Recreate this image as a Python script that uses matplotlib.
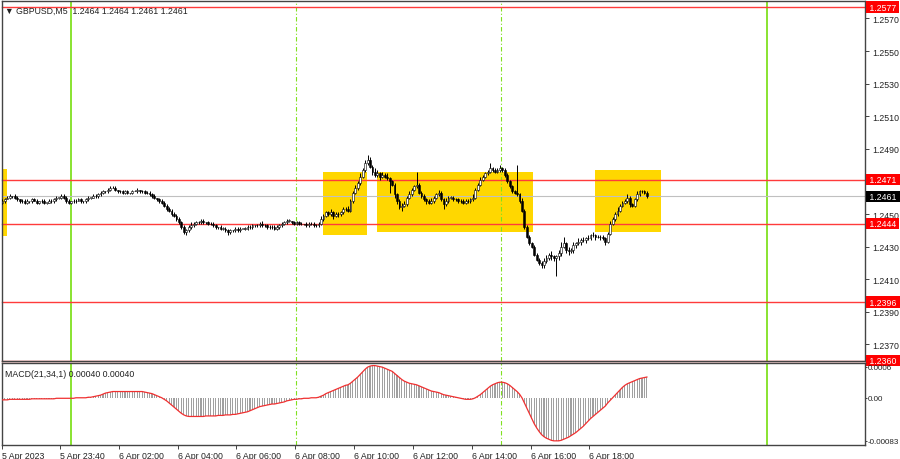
import numpy as np
import matplotlib.pyplot as plt
from matplotlib.transforms import blended_transform_factory

# GBPUSD M5, prices in pips above 1.2400, one value per bar
base = 1.2400
first_open = 57
close_pips = [
    58, 59, 60, 61, 61, 60, 59, 58, 58, 57,
    58, 58, 59, 58, 57, 58, 58, 57, 57, 58,
    58, 59, 60, 60, 61, 60, 58, 57, 58, 58,
    58, 59, 58, 58, 59, 60, 60, 61, 61, 62,
    63, 64, 64, 65, 66, 66, 65, 64, 64, 63,
    64, 63, 63, 64, 64, 65, 64, 64, 63, 63,
    62, 61, 60, 59, 58, 57, 55, 53, 52, 50,
    49, 47, 45, 42, 39, 40, 42, 43, 44, 45,
    45, 46, 45, 45, 44, 44, 43, 42, 42, 41,
    41, 40, 39, 40, 40, 41, 40, 41, 41, 41,
    42, 42, 43, 43, 43, 44, 43, 43, 42, 42,
    42, 41, 42, 43, 44, 45, 46, 46, 45, 44,
    45, 44, 44, 44, 43, 44, 44, 43, 43, 44,
    47, 49, 51, 50, 51, 49, 50, 50, 51, 53,
    53, 52, 58, 63, 66, 69, 73, 77, 81, 83,
    79, 76, 74, 75, 73, 74, 73, 72, 70, 68,
    62, 58, 54, 55, 56, 60, 62, 65, 67, 68,
    63, 61, 59, 58, 57, 58, 60, 62, 63, 59,
    56, 58, 60, 60, 59, 59, 58, 58, 57, 58,
    58, 59, 60, 65, 68, 71, 73, 75, 76, 78,
    77, 76, 77, 78, 77, 74, 70, 67, 64, 63,
    62, 58, 52, 42, 36, 32, 30, 25, 22, 20,
    19, 21, 23, 25, 24, 23, 24, 26, 30, 32,
    28, 27, 28, 31, 32, 33, 34, 34, 35, 35,
    37, 37, 36, 36, 36, 35, 33, 38, 44, 47,
    50, 52, 55, 57, 58, 60, 56, 55, 59, 62,
    64, 64, 63, 61,
]
up_wick = [
    1, 1, 1, 1, 0, 1, 1, 0, 1, 1,
    1, 0, 1, 1, 1, 0, 1, 1, 0, 1,
    1, 1, 1, 0, 1, 1, 1, 1, 0, 1,
    1, 1, 1, 0, 1, 1, 0, 1, 1, 1,
    1, 1, 0, 1, 1, 1, 1, 0, 1, 1,
    1, 1, 0, 1, 1, 1, 0, 1, 1, 1,
    1, 1, 1, 0, 1, 1, 1, 1, 1, 1,
    1, 1, 1, 1, 1, 1, 1, 2, 1, 1,
    1, 1, 1, 0, 1, 1, 1, 1, 0, 1,
    1, 1, 1, 1, 0, 1, 1, 1, 0, 1,
    1, 1, 1, 0, 1, 1, 2, 1, 1, 1,
    1, 1, 1, 1, 1, 1, 1, 1, 0, 1,
    1, 1, 1, 0, 1, 1, 1, 1, 1, 1,
    2, 1, 1, 1, 2, 1, 1, 1, 1, 1,
    1, 2, 1, 1, 2, 1, 2, 1, 2, 3,
    2, 1, 2, 2, 1, 2, 1, 2, 1, 1,
    1, 1, 1, 2, 2, 1, 2, 1, 1, 8,
    1, 1, 1, 1, 1, 2, 1, 1, 2, 1,
    1, 2, 1, 1, 1, 1, 1, 1, 1, 1,
    1, 1, 2, 1, 1, 2, 1, 1, 1, 3,
    1, 1, 1, 2, 1, 1, 1, 1, 1, 1,
    17, 1, 2, 1, 1, 1, 1, 1, 1, 1,
    1, 2, 2, 1, 2, 1, 1, 2, 3, 4,
    1, 2, 1, 2, 1, 2, 1, 2, 1, 2,
    1, 2, 1, 1, 1, 1, 1, 1, 2, 1,
    1, 2, 1, 1, 1, 2, 1, 1, 1, 2,
    1, 1, 1, 1,
]
dn_wick = [
    1, 1, 0, 1, 1, 1, 1, 1, 1, 1,
    1, 1, 1, 0, 1, 1, 1, 1, 1, 0,
    1, 1, 1, 1, 1, 1, 1, 1, 1, 1,
    1, 0, 1, 1, 1, 1, 1, 0, 1, 1,
    1, 1, 1, 1, 1, 0, 1, 1, 1, 1,
    1, 1, 1, 1, 0, 1, 1, 1, 1, 1,
    1, 1, 1, 1, 1, 1, 1, 1, 1, 1,
    1, 1, 1, 1, 1, 2, 1, 1, 1, 1,
    1, 1, 1, 1, 1, 1, 1, 1, 1, 1,
    1, 1, 2, 1, 1, 1, 1, 1, 0, 1,
    1, 1, 1, 1, 1, 1, 1, 1, 1, 1,
    1, 1, 1, 1, 1, 1, 1, 1, 1, 1,
    1, 1, 1, 1, 1, 1, 1, 1, 1, 1,
    1, 1, 1, 1, 1, 2, 1, 2, 1, 1,
    1, 1, 1, 1, 1, 1, 1, 1, 1, 1,
    1, 2, 1, 1, 2, 1, 1, 1, 7, 1,
    2, 2, 1, 2, 1, 1, 1, 1, 1, 1,
    1, 1, 1, 2, 1, 1, 1, 1, 1, 1,
    3, 1, 1, 1, 1, 1, 1, 1, 1, 1,
    1, 1, 1, 1, 1, 1, 1, 1, 1, 1,
    1, 1, 1, 1, 1, 1, 1, 1, 1, 1,
    1, 1, 1, 1, 1, 1, 1, 1, 1, 1,
    2, 2, 1, 1, 2, 2, 11, 2, 2, 1,
    2, 2, 1, 2, 2, 1, 2, 1, 2, 1,
    1, 1, 2, 1, 2, 1, 2, 1, 1, 1,
    1, 1, 1, 1, 1, 1, 2, 1, 1, 1,
    1, 1, 1, 1,
]
# MACD(21,34,1) in units of 0.00001
macd_e5 = [
    -4, -4, -4, -3, -3, -3, -3, -3, -3, -3,
    -3, -3, -2, -2, -2, -2, -2, -2, -2, -2,
    -2, -2, -1, -1, -1, -1, -1, -1, -1, -1,
    0, 0, 0, 0, 0, 1, 1, 2, 3, 4,
    5, 7, 9, 10, 11, 12, 12, 12, 12, 12,
    12, 12, 12, 12, 12, 12, 12, 12, 11, 10,
    9, 8, 6, 4, 2, 0, -3, -6, -10, -14,
    -18, -22, -26, -30, -33, -35, -36, -36, -36, -36,
    -36, -36, -36, -35, -35, -35, -35, -35, -34, -34,
    -34, -33, -33, -33, -32, -32, -31, -30, -29, -28,
    -27, -25, -23, -21, -19, -17, -16, -15, -14, -13,
    -12, -12, -11, -10, -9, -8, -6, -5, -4, -3,
    -3, -2, -2, -1, -1, -1, 0, 0, 0, 1,
    3, 5, 8, 10, 12, 14, 16, 18, 20, 22,
    24, 25, 28, 32, 36, 40, 45, 50, 55, 59,
    61, 62, 62, 61, 60, 59, 57, 55, 53, 51,
    47, 43, 39, 35, 32, 30, 28, 27, 26, 25,
    23, 21, 19, 17, 15, 13, 12, 11, 10, 8,
    6, 5, 4, 3, 2, 1, 0, -1, -2, -3,
    -3, -3, -2, 0, 3, 6, 10, 14, 18, 22,
    25, 27, 29, 30, 30, 29, 27, 24, 20, 16,
    12, 7, 0, -10, -20, -30, -40, -50, -58, -65,
    -71, -75, -78, -80, -82, -83, -83, -83, -82, -80,
    -78, -76, -73, -70, -67, -63, -59, -55, -50, -45,
    -40, -36, -32, -28, -24, -20, -16, -10, -5, 0,
    5, 10, 15, 20, 24, 27, 29, 31, 33, 35,
    37, 38, 39, 40,
]

red_levels = [1.2577, 1.2471, 1.2444, 1.2396, 1.2360]
bid = 1.2461
# rectangles: (first bar, last bar, low price, high price)
boxes = [(-0.2, 1.8, 1.24365, 1.24775),
         (130.8, 148.8, 1.24371, 1.24758),
         (152.9, 216.5, 1.24389, 1.24758),
         (241.8, 268.8, 1.24390, 1.24770)]
solid_days = [27.9, 312.0]
dashed_marks = [119.8, 203.5]
price_ticks = [1.2370, 1.2390, 1.2410, 1.2430, 1.2450, 1.2490, 1.2510, 1.2530, 1.2550, 1.2570]
time_ticks = [0, 23.5, 47.5, 71.5, 95.5, 119.5, 143.5, 167.5, 191.5, 215.5, 239.5]
time_labels = ['5 Apr 2023', '5 Apr 23:40', '6 Apr 02:00', '6 Apr 04:00', '6 Apr 06:00',
               '6 Apr 08:00', '6 Apr 10:00', '6 Apr 12:00', '6 Apr 14:00', '6 Apr 16:00',
               '6 Apr 18:00']

closes = base + np.array(close_pips) / 10000
opens = np.concatenate([[base + first_open / 10000], closes[:-1]])
highs = np.maximum(opens, closes) + np.array(up_wick) / 10000
lows = np.minimum(opens, closes) - np.array(dn_wick) / 10000
macd = np.array(macd_e5) / 100000
idx = np.arange(len(closes))

plt.rcParams['font.family'] = ['Liberation Sans', 'DejaVu Sans']
fig = plt.figure(figsize=(9, 4.6), dpi=100, facecolor='white')
ax = fig.add_axes([2 / 900, 98 / 460, 863 / 900, 360 / 460])
mx = fig.add_axes([2 / 900, 14 / 460, 863 / 900, 82 / 460])

green = '#80e020'
for a in (ax, mx):
    a.set_xlim(-0.2, 352.0)
    for s in a.spines.values():
        s.set_color('#444444')
        s.set_linewidth(1)
    for d in solid_days:
        a.axvline(d, color=green, lw=1.3, zorder=1)
    for d in dashed_marks:
        a.axvline(d, color=green, lw=0.8, ls=(0, (4, 2, 1, 2)), zorder=1)
    a.yaxis.tick_right()

ax.tick_params(axis='y', length=3, width=0.6, labelsize=6.3, pad=2, colors='#222222')
mx.tick_params(axis='y', length=1.5, width=0.6, labelsize=5.8, pad=0.5, colors='#222222')

# main chart
ax.set_ylim(1.23598, 1.25807)
for x0, x1, y0, y1 in boxes:
    ax.add_patch(plt.Rectangle((x0, y0), x1 - x0, y1 - y0, facecolor='#ffd700',
                               edgecolor='none', zorder=0.5))
for lv in red_levels:
    ax.axhline(lv, color='#ff3b3b', lw=1, zorder=2, clip_on=False)
ax.axhline(bid, color='#c0c0c0', lw=0.8, zorder=1.5)

ax.vlines(idx, lows, highs, color='black', lw=0.7, zorder=3)
bull = closes >= opens
body = np.maximum(np.abs(closes - opens), 0.000015)
ax.bar(idx, body, bottom=np.minimum(opens, closes), width=0.75,
       color=np.where(bull, 'white', 'black'), edgecolor='black', lw=0.4, zorder=4)

ax.set_yticks(price_ticks)
ax.set_yticklabels([f'{t:.4f}' for t in price_ticks])
ax.set_xticks([])

tr = blended_transform_factory(ax.transAxes, ax.transData)
for lv in red_levels:
    ax.text(1.002, lv, f' {lv:.4f} ', transform=tr, fontsize=6.3, color='white', va='center',
            ha='left', bbox=dict(boxstyle='square,pad=0.12', fc='#ff0000', ec='none'), zorder=10)
ax.text(1.002, bid, f' {bid:.4f} ', transform=tr, fontsize=6.3, color='white', va='center',
        ha='left', bbox=dict(boxstyle='square,pad=0.12', fc='black', ec='none'), zorder=10)
ax.text(0.004, 0.988, '\u25bc GBPUSD,M5  1.2464 1.2464 1.2461 1.2461', transform=ax.transAxes,
        fontsize=6.3, color='#222222', va='top', ha='left', zorder=10)

# MACD window
mx.set_ylim(-0.00091, 0.00067)
mx.bar(idx, macd, width=0.45, color='#a0a0a0', zorder=2)
mx.plot(idx, macd, color='#f03030', lw=0.9, zorder=3)
mx.set_yticks([0.0006, 0.0, -0.00083])
mx.set_yticklabels(['0.0006', '0.00', '-0.00083'])
mx.set_xticks(time_ticks)
mx.set_xticklabels(time_labels, ha='left')
mx.tick_params(axis='x', length=3, width=0.6, labelsize=6.3, pad=1.5, colors='#222222')
mx.text(0.003, 0.93, 'MACD(21,34,1) 0.00040 0.00040', transform=mx.transAxes, fontsize=6.3,
        color='#222222', va='top', ha='left')

fig.savefig('out.png', dpi=100, facecolor='white')
